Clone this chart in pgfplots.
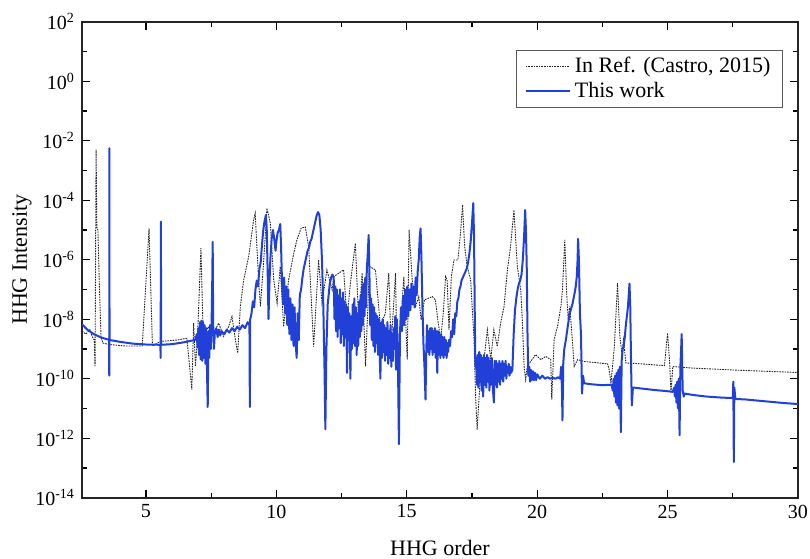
\documentclass[border=0pt]{standalone}
\usepackage{pgfplots}
\pgfplotsset{compat=1.18}
\usepackage{pgfplotstable}
\usepackage{fontspec}
\setmainfont{Liberation Serif}
\definecolor{workblue}{RGB}{32,64,216}

\pgfplotstableread{
x y
2.55 3.98e-9
2.70 3.16e-9
2.85 4.47e-9
2.95 2.51e-9
3.02 2.0e-9
3.05 2.51e-10
3.09 5.01e-3
3.12 1.12e-5
3.16 1e-5
3.22 1e-7
3.28 2.51e-9
3.35 1.58e-9
3.60 1.41e-9
4.20 1.26e-9
4.86 1.26e-9
5.12 1.12e-5
5.25 1.26e-9
5.55 1.78e-9
6.20 2.0e-9
6.57 2.29e-9
6.76 4.27e-11
6.83 7.41e-9
6.90 2.57e-10
6.98 2.63e-9
7.11 2.45e-6
7.18 9.55e-9
7.27 3.39e-9
7.40 5.62e-9
7.53 2.63e-9
7.66 4.37e-9
7.79 7.41e-9
7.98 2.63e-9
8.17 5.62e-9
8.30 1.23e-8
8.43 2.04e-9
8.52 7.24e-10
8.62 2.69e-8
8.75 2.09e-7
8.94 1.29e-6
9.13 2.19e-5
9.19 3.63e-5
9.32 2.09e-7
9.39 2.69e-8
9.51 7.59e-7
9.64 5.37e-5
9.77 1.70e-5
9.90 2.09e-7
10.03 3.47e-8
10.15 5.89e-7
10.28 5.62e-9
10.47 2.09e-7
10.67 1.66e-6
10.79 4.68e-6
10.95 1.15e-5
11.11 1.26e-5
11.24 2.75e-6
11.43 1.20e-9
11.62 9.77e-7
11.75 3.47e-8
11.94 4.57e-7
12.14 9.77e-8
12.20 2.69e-7
12.58 4.57e-7
12.71 9.55e-9
12.84 1.62e-7
13.03 3.55e-6
13.16 7.41e-9
13.29 3.55e-7
13.42 2.57e-10
13.57 5.89e-7
13.80 4.57e-7
13.99 5.75e-9
14.18 1.58e-8
14.31 3.55e-7
14.40 1.20e-9
14.57 3.55e-7
14.63 2.57e-10
14.76 5.75e-9
14.89 2.69e-7
15.02 4.37e-10
15.09 1e-5
15.21 2.09e-7
15.34 2.69e-8
15.46 5.75e-8
15.55 9.55e-9
15.68 4.47e-8
15.98 5.75e-8
16.10 4.47e-8
16.19 9.55e-9
16.30 2.04e-9
16.40 1.58e-8
16.49 2.69e-7
16.55 2.09e-7
16.62 4.37e-9
16.71 2.69e-7
16.81 9.77e-7
16.96 9.77e-7
17.06 7.76e-6
17.14 6.92e-5
17.22 2.75e-6
17.32 5.89e-7
17.45 2.09e-7
17.58 2.04e-9
17.64 2.57e-11
17.70 1.95e-12
17.83 1.55e-10
17.96 4.37e-10
18.09 4.37e-9
18.22 4.37e-10
18.34 4.37e-9
18.47 1.20e-9
18.60 7.41e-9
18.73 2.69e-8
18.86 4.57e-7
18.98 2.75e-6
19.11 4.68e-5
19.24 5.89e-7
19.37 9.77e-8
19.43 9.55e-9
19.50 2.57e-10
19.56 9.33e-11
19.62 2.57e-10
19.75 3.80e-10
19.94 6.46e-10
20.14 4.37e-10
20.33 5.62e-10
20.52 4.37e-10
20.56 2.0e-11
20.65 2.04e-9
20.78 5.75e-9
20.91 2.69e-8
20.97 9.77e-8
21.06 4.68e-6
21.13 7.59e-8
21.19 9.55e-9
21.25 2.69e-8
21.32 4.37e-9
21.42 2.57e-10
21.55 4.37e-10
21.80 3.80e-10
22.70 3.16e-10
22.76 2.0e-10
22.83 7.08e-11
22.96 1.20e-9
23.08 1.62e-7
23.17 2.63e-9
23.25 7.24e-10
23.31 2.04e-9
23.40 3.39e-10
23.98 3.16e-10
24.88 2.75e-10
25.00 3.39e-9
25.08 3.39e-10
25.13 3.31e-11
25.20 2.57e-10
25.90 2.29e-10
27.82 1.91e-10
30.00 1.62e-10
}\refdata

\pgfplotstableread{
x y
2.55 6.76e-9
2.75 4.47e-9
3.00 3.16e-9
3.30 2.40e-9
3.585 2.04e-9
3.595 1.26e-10
3.600 5.62e-3
3.605 3.16e-9
3.615 2.0e-9
4.00 1.74e-9
4.50 1.51e-9
5.00 1.41e-9
5.555 1.38e-9
5.565 5.01e-10
5.575 1.91e-5
5.585 1.38e-9
6.00 1.45e-9
6.50 1.70e-9
6.90 2.04e-9
6.95 3.16e-9
6.98 1.12e-9
7.01 5.01e-9
7.04 6.31e-10
7.07 7.94e-9
7.10 4.47e-10
7.13 8.91e-9
7.16 3.98e-10
7.19 7.94e-9
7.22 5.01e-10
7.25 6.31e-9
7.28 3.16e-10
7.31 5.01e-9
7.37 1.12e-11
7.40 3.98e-9
7.43 5.01e-10
7.46 6.31e-9
7.49 1e-9
7.52 1e-8
7.54 1e-7
7.56 3.98e-6
7.58 6.31e-9
7.61 1e-9
7.64 3.16e-9
7.70 5.01e-9
7.75 2.51e-9
7.80 4.47e-9
7.85 2.82e-9
7.90 3.98e-9
8.00 3.16e-9
8.10 4.47e-9
8.20 3.55e-9
8.30 5.01e-9
8.40 3.98e-9
8.50 5.62e-9
8.60 4.47e-9
8.70 6.31e-9
8.80 5.01e-9
8.90 7.94e-9
8.97 6.31e-9
8.985 1.12e-11
9.00 1e-8
9.05 1.58e-8
9.10 3.98e-8
9.15 2.51e-8
9.20 1e-7
9.25 2.0e-7
9.30 1.26e-7
9.35 5.01e-7
9.40 7.94e-7
9.45 3.16e-6
9.50 1e-5
9.55 2.0e-5
9.60 3.16e-5
9.63 1.26e-5
9.67 3.16e-7
9.70 1e-8
9.73 1e-7
9.77 1e-6
9.82 5.01e-6
9.87 1e-5
9.92 5.01e-6
9.97 2.0e-6
10.00 3.98e-6
10.05 7.94e-6
10.10 1e-5
10.15 1.58e-5
10.18 3.16e-6
10.22 1.58e-7
10.26 3.16e-8
10.30 2.51e-7
10.34 1.58e-8
10.38 1.26e-7
10.42 6.31e-9
10.46 1e-7
10.50 3.16e-9
10.54 5.01e-8
10.58 2.0e-9
10.62 3.16e-8
10.66 1.26e-9
10.70 2.51e-8
10.74 1.58e-9
10.78 5.01e-10
10.82 1.58e-8
10.86 2.0e-9
10.90 6.31e-8
10.95 1e-7
11.00 2.51e-7
11.05 5.01e-7
11.10 7.94e-7
11.15 1.26e-6
11.20 2.0e-6
11.25 2.51e-6
11.30 3.98e-6
11.35 5.01e-6
11.40 7.94e-6
11.45 1.26e-5
11.50 2.0e-5
11.55 3.16e-5
11.60 3.98e-5
11.65 3.16e-5
11.70 1e-5
11.75 1e-6
11.80 3.16e-8
11.85 1.58e-10
11.88 2.0e-12
11.92 1e-9
11.97 3.16e-8
12.05 1.58e-7
12.10 2.51e-7
12.15 3.16e-7
12.20 2.51e-7
12.23 1e-8
12.26 1.26e-7
12.29 3.98e-9
12.32 1e-7
12.35 2.51e-9
12.38 6.31e-8
12.41 5.01e-9
12.44 1e-7
12.47 1.58e-9
12.50 5.01e-8
12.53 3.16e-9
12.56 7.94e-8
12.59 1.26e-9
12.62 3.98e-8
12.65 2.51e-9
12.68 3.16e-8
12.71 1.58e-10
12.74 2.51e-8
12.77 2.0e-9
12.80 1.58e-8
12.84 1e-10
12.87 1.26e-8
12.90 1e-9
12.93 3.16e-8
12.96 1.58e-9
12.99 5.01e-8
13.02 1.26e-9
13.05 2.51e-8
13.08 6.31e-10
13.11 1.58e-8
13.14 1.26e-9
13.17 3.98e-8
13.20 2.51e-9
13.23 6.31e-8
13.26 3.98e-9
13.29 1.26e-7
13.32 6.31e-9
13.35 1.58e-7
13.38 1.26e-8
13.41 2.51e-7
13.44 2.51e-8
13.47 5.01e-7
13.50 1.26e-6
13.54 6.76e-6
13.57 3.16e-7
13.60 6.31e-9
13.63 5.01e-8
13.66 2.0e-9
13.69 3.16e-8
13.72 1.26e-9
13.75 2.51e-8
13.78 7.94e-10
13.81 1.58e-8
13.84 1.58e-9
13.87 1.26e-8
13.90 6.31e-10
13.93 1e-8
13.96 1e-9
13.99 1e-10
14.02 7.94e-9
14.05 5.01e-10
14.08 1e-8
14.11 7.94e-10
14.14 6.31e-9
14.17 3.98e-10
14.20 5.01e-9
14.23 6.31e-10
14.26 7.94e-9
14.29 3.16e-10
14.32 3.98e-9
14.35 5.01e-10
14.38 6.31e-9
14.41 2.51e-10
14.44 3.16e-9
14.47 3.98e-10
14.50 5.01e-9
14.53 1e-9
14.56 1.26e-8
14.59 2.0e-10
14.62 1e-8
14.66 6.31e-10
14.70 6.31e-13
14.74 3.16e-9
14.78 2.51e-8
14.82 3.98e-9
14.86 6.31e-8
14.90 6.31e-9
14.94 1e-7
14.98 1e-8
15.02 1.26e-7
15.06 1.26e-8
15.10 1e-7
15.14 2.0e-8
15.18 1.58e-7
15.22 3.16e-8
15.26 1.26e-7
15.30 2.51e-8
15.34 2.51e-7
15.38 6.31e-8
15.42 3.98e-7
15.46 1e-6
15.50 6.31e-6
15.53 1.12e-5
15.56 1.58e-6
15.60 3.16e-8
15.64 1.58e-9
15.68 2.51e-10
15.72 2.0e-11
15.75 1e-9
15.78 6.31e-9
15.81 7.94e-10
15.84 3.98e-9
15.87 6.31e-10
15.90 5.01e-9
15.93 1e-9
15.96 5.01e-9
15.99 6.31e-10
16.02 3.98e-9
16.05 7.94e-10
16.08 5.01e-9
16.11 5.01e-10
16.14 3.98e-9
16.17 1.58e-10
16.20 3.98e-9
16.23 6.31e-10
16.26 3.16e-9
16.29 5.01e-10
16.32 3.16e-9
16.35 6.31e-10
16.38 2.51e-9
16.41 5.01e-10
16.44 2.51e-9
16.47 6.31e-10
16.50 2.0e-9
16.53 5.01e-10
16.56 1.58e-9
16.59 7.94e-10
16.62 2.0e-9
16.66 1.26e-9
16.70 3.98e-9
16.74 2.51e-9
16.78 1e-8
16.82 3.16e-9
16.86 1.58e-8
16.90 1.26e-8
16.94 3.98e-8
16.98 5.01e-8
17.02 1e-7
17.06 1.26e-7
17.10 2.0e-7
17.15 2.51e-7
17.20 3.16e-7
17.25 3.98e-7
17.30 5.01e-7
17.35 7.94e-7
17.40 1.58e-6
17.45 3.98e-6
17.50 1.58e-5
17.55 7.94e-5
17.58 6.31e-6
17.61 1e-8
17.63 2.51e-10
17.66 5.01e-10
17.69 6.31e-11
17.72 6.31e-10
17.75 5.01e-11
17.78 7.94e-10
17.81 7.94e-11
17.84 6.31e-10
17.87 3.98e-11
17.90 5.01e-10
17.93 2.51e-11
17.96 6.31e-10
17.99 6.31e-11
18.02 5.01e-10
18.05 5.01e-11
18.08 6.31e-10
18.11 7.94e-11
18.14 5.01e-10
18.17 3.98e-11
18.20 3.98e-10
18.23 6.31e-11
18.26 5.01e-10
18.30 5.01e-11
18.34 1.58e-11
18.37 3.98e-10
18.40 6.31e-11
18.43 3.98e-10
18.46 5.01e-11
18.49 3.16e-10
18.52 7.94e-11
18.55 3.98e-10
18.58 6.31e-11
18.61 3.16e-10
18.64 1e-10
18.67 3.98e-10
18.70 7.94e-11
18.73 3.16e-10
18.76 1.26e-10
18.79 3.98e-10
18.82 1e-10
18.85 2.51e-10
18.88 1.58e-10
18.91 3.16e-10
18.94 1.26e-10
18.97 2.51e-10
19.00 1.58e-10
19.05 2.0e-10
19.10 3.16e-9
19.15 2.0e-8
19.20 5.01e-8
19.25 1e-7
19.30 1.58e-7
19.35 2.0e-7
19.40 3.16e-7
19.45 1e-6
19.50 6.31e-6
19.54 4.68e-5
19.57 1e-5
19.60 6.31e-7
19.63 3.16e-9
19.66 1.26e-10
19.70 2.51e-10
19.73 7.94e-11
19.76 2.0e-10
19.80 8.91e-11
19.84 1.78e-10
19.88 8.91e-11
19.92 1.58e-10
19.96 8.91e-11
20.00 1.41e-10
20.10 1e-10
20.20 1.26e-10
20.30 1e-10
20.40 1.12e-10
20.50 1e-10
20.60 1.07e-10
20.70 1e-10
20.80 1.12e-10
20.88 1e-10
20.92 2.51e-10
20.95 5.01e-11
20.97 3.98e-12
21.00 3.16e-10
21.04 1e-9
21.10 2.0e-9
21.18 6.31e-9
21.25 1.58e-8
21.35 3.16e-8
21.42 6.31e-8
21.48 1.26e-7
21.52 2.75e-7
21.55 1e-6
21.57 5.01e-6
21.60 1e-6
21.64 1.58e-8
21.68 3.16e-9
21.72 3.16e-11
21.76 1.26e-10
21.80 7.08e-11
22.00 6.61e-11
22.50 6.03e-11
22.85 6.31e-11
22.90 3.98e-11
22.93 1e-10
22.96 2.51e-11
22.99 1.26e-10
23.02 1.58e-11
23.05 1.58e-10
23.08 1.26e-11
23.11 2.0e-10
23.14 1e-11
23.17 2.51e-10
23.21 1.58e-12
23.24 3.98e-10
23.28 1e-9
23.32 1.26e-9
23.36 2.51e-9
23.40 6.31e-9
23.44 1.26e-8
23.48 2.51e-8
23.51 6.31e-8
23.54 1.58e-7
23.57 2.51e-8
23.60 3.16e-10
23.63 1.26e-11
23.67 5.01e-11
23.72 5.01e-11
24.00 4.68e-11
24.50 4.17e-11
25.00 3.80e-11
25.20 3.63e-11
25.25 5.01e-11
25.28 2.51e-11
25.31 6.31e-11
25.34 1.58e-11
25.37 7.94e-11
25.40 1e-11
25.43 1e-10
25.46 1.26e-12
25.49 2.51e-10
25.52 1e-9
25.54 3.16e-9
25.56 3.16e-10
25.58 3.98e-11
25.62 2.51e-11
25.66 3.16e-11
26.00 2.82e-11
26.50 2.51e-11
27.00 2.34e-11
27.45 2.24e-11
27.50 2.40e-11
27.52 7.94e-11
27.54 1.58e-13
27.56 5.01e-11
27.60 2.09e-11
28.00 2.0e-11
28.50 1.82e-11
29.00 1.66e-11
29.50 1.51e-11
30.00 1.41e-11
}\workdata

\begin{document}
\begin{tikzpicture}
\path[use as bounding box] (-41pt,-30.5pt) rectangle (364pt,248.85pt);
\begin{axis}[
  scale only axis,
  width=358pt, height=238pt,
  ymode=log,
  xmin=2.55, xmax=30,
  ymin=1e-14, ymax=1e2,
  xtick={5,10,15,20,25,30},
  minor x tick num=1,
  ytick={1e-14,1e-12,1e-10,1e-8,1e-6,1e-4,1e-2,1,1e2},
  yticklabels={10\textsuperscript{-14},10\textsuperscript{-12},10\textsuperscript{-10},10\textsuperscript{-8},10\textsuperscript{-6},10\textsuperscript{-4},10\textsuperscript{-2},10\textsuperscript{0},10\textsuperscript{2}},
  minor ytick={1e-13,1e-11,1e-9,1e-7,1e-5,1e-3,1e-1,1e1},
  /pgf/number format/assume math mode=true,
  tick label style={font=\fontsize{10}{12}\selectfont, black},
  major tick length=4pt, minor tick length=2.5pt,
  every tick/.style={black, line width=0.6pt},
  axis line style={line width=0.9pt, black!85},
  xlabel={HHG order},
  ylabel={HHG Intensity},
  label style={font=\fontsize{11}{13}\selectfont},
  xlabel style={at={(axis description cs:0.5,-0.105)}, anchor=center},
  ylabel style={at={(axis description cs:-0.0838,0.5)}, anchor=center},
  legend style={at={(axis description cs:0.979,0.941)}, anchor=north east,
    draw=black!65, line width=0.6pt, font=\fontsize{11}{12.5}\selectfont,
    inner xsep=4pt, inner ysep=1.5pt, row sep=-1pt},
  legend cell align=left,
  legend image code/.code={\draw[#1] (0pt,0pt) -- (22pt,0pt);},
]
\addplot[black!85, line width=0.45pt, dash pattern=on 0.8pt off 0.5pt] table[x=x,y=y] {\refdata};
\addlegendentry{In Ref. (Castro, 2015)}
\addplot[workblue, line width=1pt, line join=round] table[x=x,y=y] {\workdata};
\addlegendentry{This work}
\end{axis}
\end{tikzpicture}
\end{document}
